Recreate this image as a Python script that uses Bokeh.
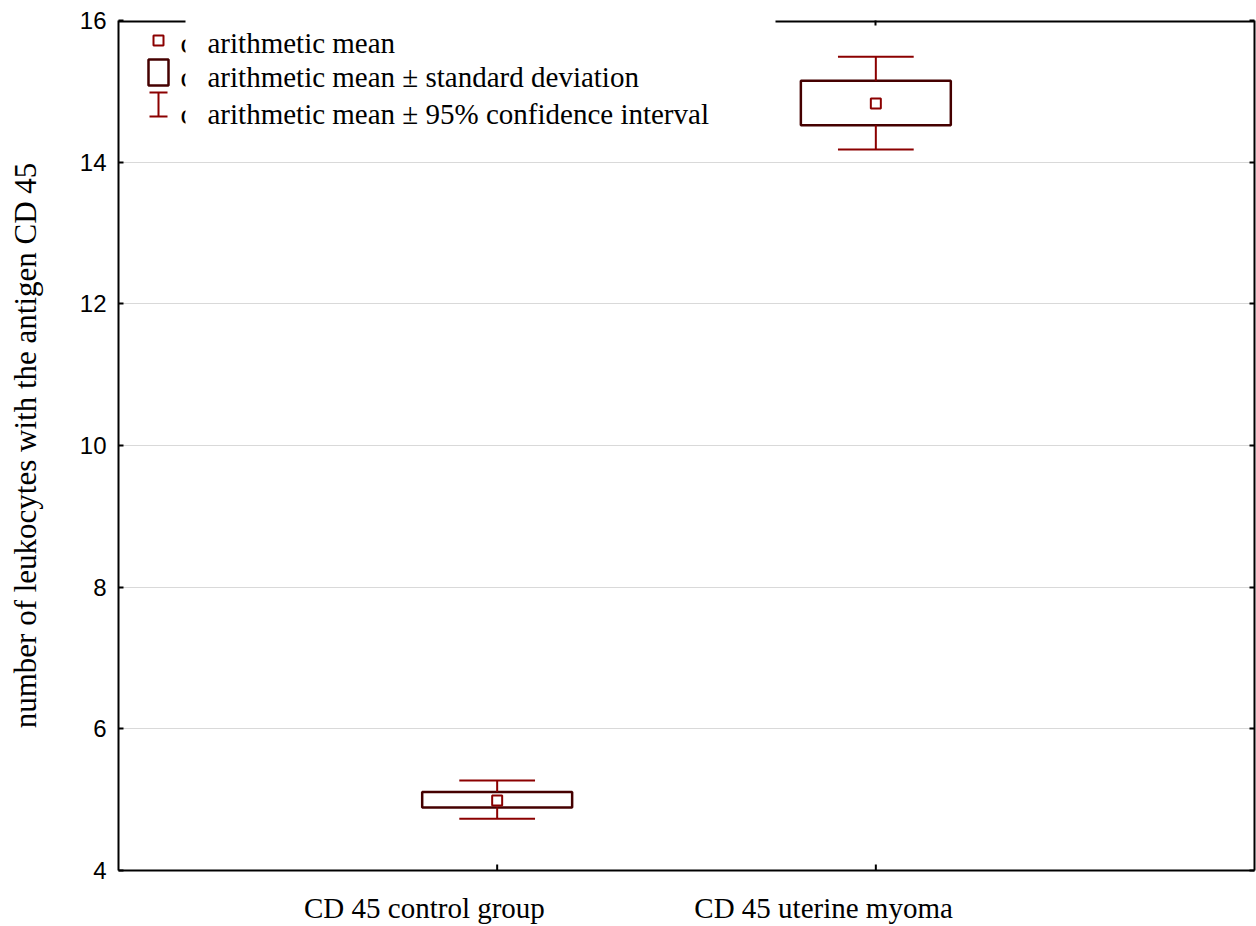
from bokeh.plotting import figure
from bokeh.models import Range1d, FixedTicker, LinearAxis
from bokeh.core.properties import value
from bokeh.embed import file_html
from bokeh.resources import INLINE

# ---- data ----
categories = ["CD 45 control group", "CD 45 uterine myoma"]
cat_pos = [1, 2]
means = [4.99, 14.83]
sd_low = [4.89, 14.52]
sd_high = [5.11, 15.15]
ci_low = [4.73, 14.18]
ci_high = [5.27, 15.49]
y_ticks = [4, 6, 8, 10, 12, 14, 16]
legend_labels = ["arithmetic mean",
                 "arithmetic mean \u00b1 standard deviation",
                 "arithmetic mean \u00b1 95% confidence interval"]
y_label = "number of leukocytes with the antigen CD 45"

# ---- layout ----
W, H = 1256, 926
FL, FR, FT, FB = 118, 1254, 20, 871
X0, X1 = 0.0, 3.0
Y0, Y1 = 4, 16
BOX_HW = 0.198
CAP_HW = 0.1
RED = "#8B0000"
BOX = "#450000"
SERIF = "Liberation Serif"
caption_pos = [0.808, 1.862]   # captions sit left of their category, as in the reference


def dx(px):
    return X0 + (px - FL) * (X1 - X0) / (FR - FL)


def dy(py):
    return Y1 - (py - FT) * (Y1 - Y0) / (FB - FT)


p = figure(width=W, height=H, x_range=Range1d(X0, X1), y_range=Range1d(Y0, Y1),
           output_backend="svg", toolbar_location=None,
           min_border_left=FL, min_border_right=W - FR,
           min_border_top=FT, min_border_bottom=H - FB)
p.outline_line_color = None
p.background_fill_color = "white"
p.border_fill_color = "white"

# grid
p.xgrid.visible = False
p.ygrid.ticker = FixedTicker(ticks=y_ticks)
p.ygrid.grid_line_color = "#d9d9d9"
p.ygrid.grid_line_width = 1

# left axis
ya = p.yaxis[0]
ya.ticker = FixedTicker(ticks=y_ticks)
ya.major_tick_in = 5
ya.major_tick_out = 0
ya.minor_tick_in = 0
ya.minor_tick_out = 0
ya.axis_line_width = 2
ya.major_tick_line_width = 2
ya.major_label_text_font = "Liberation Sans"
ya.major_label_text_font_size = "24px"
ya.major_label_text_color = "black"
ya.major_label_standoff = 12
ya.axis_label = y_label
ya.axis_label_text_font = SERIF
ya.axis_label_text_font_size = "31px"
ya.axis_label_text_font_style = "normal"
ya.axis_label_text_color = "black"
ya.axis_label_standoff = 34

# bottom axis: captions only (tick marks drawn at the categories below)
xa = p.xaxis[0]
xa.ticker = FixedTicker(ticks=caption_pos)
xa.major_label_overrides = {c: t for c, t in zip(caption_pos, categories)}
xa.major_tick_in = 0
xa.major_tick_out = 0
xa.minor_tick_in = 0
xa.minor_tick_out = 0
xa.axis_line_width = 2
xa.major_label_text_font = SERIF
xa.major_label_text_font_size = "29px"
xa.major_label_text_color = "black"
xa.major_label_standoff = 21

# right axis (ticks only)
ra = LinearAxis(ticker=FixedTicker(ticks=y_ticks))
ra.major_label_overrides = {t: "" for t in y_ticks}
ra.major_tick_in = 5
ra.major_tick_out = 0
ra.minor_tick_in = 0
ra.minor_tick_out = 0
ra.axis_line_width = 2
ra.major_tick_line_width = 2
ra.major_label_standoff = 0
p.add_layout(ra, "right")

# top axis (ticks only; line drawn separately, broken by legend)
ta = LinearAxis(ticker=FixedTicker(ticks=[cat_pos[1]]))
ta.major_label_overrides = {cat_pos[1]: ""}
ta.axis_line_color = None
ta.major_tick_in = 5
ta.major_tick_out = 0
ta.minor_tick_in = 0
ta.minor_tick_out = 0
ta.major_tick_line_width = 2
ta.major_label_standoff = 0
p.add_layout(ta, "above")

# bottom tick marks at the categories
p.segment(x0=cat_pos, y0=[Y0] * 2, x1=cat_pos, y1=[dy(FB - 6)] * 2,
          line_color="black", line_width=2)

# ---- marks ----
p.quad(left=[c - BOX_HW for c in cat_pos], right=[c + BOX_HW for c in cat_pos],
       bottom=sd_low, top=sd_high, fill_color=None, line_color=BOX, line_width=2.5)
p.segment(x0=cat_pos, y0=sd_high, x1=cat_pos, y1=ci_high, line_color=RED, line_width=2)
p.segment(x0=cat_pos, y0=sd_low, x1=cat_pos, y1=ci_low, line_color=RED, line_width=2)
p.segment(x0=[c - CAP_HW for c in cat_pos], y0=ci_high, x1=[c + CAP_HW for c in cat_pos],
          y1=ci_high, line_color=RED, line_width=2)
p.segment(x0=[c - CAP_HW for c in cat_pos], y0=ci_low, x1=[c + CAP_HW for c in cat_pos],
          y1=ci_low, line_color=RED, line_width=2)
p.scatter(cat_pos, means, marker="square", size=10, fill_color="white",
          line_color=RED, line_width=2)

# ---- legend ----
rows = [43, 77, 114]
p.scatter([dx(158)], [dy(40)], marker="square", size=10, fill_color="white",
          line_color=RED, line_width=2)
p.rect(x=[dx(158)], y=[dy(72)], width=20, height=26, width_units="screen",
       height_units="screen", fill_color=None, line_color=BOX, line_width=2.5)
p.segment(x0=[dx(158)], y0=[dy(92)], x1=[dx(158)], y1=[dy(116)], line_color=RED, line_width=2)
p.segment(x0=[dx(149), dx(149)], y0=[dy(92), dy(116)], x1=[dx(167), dx(167)],
          y1=[dy(92), dy(116)], line_color=RED, line_width=2)
p.text(x=[dx(180)] * 3, y=[dy(r) for r in rows], text=["c"] * 3,
       text_font=value(SERIF), text_font_size="29px", text_baseline="middle",
       text_color="black")
p.quad(left=[dx(185)], right=[dx(775)], bottom=[dy(135)], top=[Y1 + 1],
       fill_color="white", line_color=None)
p.text(x=[dx(207)] * 3, y=[dy(r) for r in rows], text=legend_labels,
       text_font=value(SERIF), text_font_size="29px", text_baseline="middle",
       text_color="black")

# top border, interrupted by the legend box
p.segment(x0=[X0, dx(775)], y0=[Y1, Y1], x1=[dx(185), X1], y1=[Y1, Y1],
          line_color="black", line_width=4)

open("out.html", "w").write(file_html(p, INLINE))
